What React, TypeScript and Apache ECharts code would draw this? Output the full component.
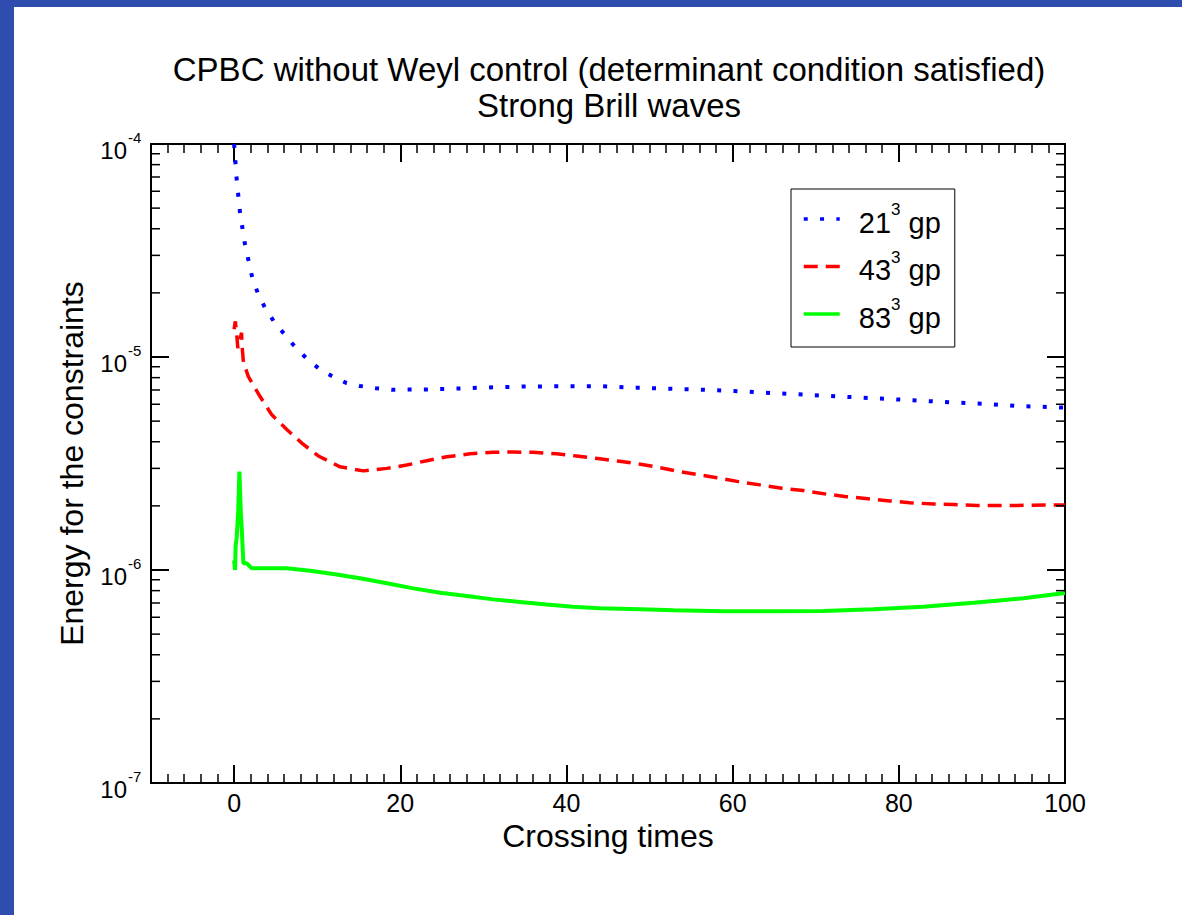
import React, { useEffect, useRef } from "react";
import * as echarts from "echarts";

const FONT = '"Liberation Sans", Arial, Helvetica, sans-serif';

const TITLE_LINES = [
  "CPBC without Weyl control (determinant condition satisfied)",
  "Strong Brill waves",
];
const X_NAME = "Crossing times";
const Y_NAME = "Energy for the constraints";

const SERIES_NAMES = ["21³ gp", "43³ gp", "83³ gp"];

// y tick labels: 10^exponent
const Y_TICK_VALUES = [1e-7, 1e-6, 1e-5, 1e-4];
const Y_TICK_EXPONENTS = ["-7", "-6", "-5", "-4"];

// 21^3 grid points (blue, dotted)
const t21 = [0, 0.32, 0.72, 1.32, 2.2, 2.85, 3.73, 4.78, 5.98, 7.22, 8.63, 10.14, 11.76, 13.44, 15.16, 17.09, 19.0, 23.0, 26.9, 30.7, 34.6, 38.6, 44.4, 48.5, 52.3, 56.3, 60.2, 64.0, 67.9, 71.8, 75.7, 79.5, 83.4, 87.3, 91.2, 95.0, 98.9, 100];
const e21 = [1.0e-4, 6.77e-5, 4.74e-5, 3.36e-5, 2.35e-5, 2.0e-5, 1.7e-5, 1.47e-5, 1.29e-5, 1.13e-5, 9.93e-6, 8.87e-6, 8.14e-6, 7.57e-6, 7.31e-6, 7.13e-6, 7.02e-6, 7.04e-6, 7.11e-6, 7.2e-6, 7.26e-6, 7.28e-6, 7.28e-6, 7.18e-6, 7.1e-6, 7.02e-6, 6.92e-6, 6.8e-6, 6.68e-6, 6.56e-6, 6.44e-6, 6.33e-6, 6.21e-6, 6.1e-6, 6.0e-6, 5.87e-6, 5.81e-6, 5.78e-6];

// 43^3 grid points (red, dashed)
const t43 = [0, 0.15, 0.3, 0.45, 0.7, 0.9, 0.95, 1.12, 1.72, 3.13, 4.54, 6.34, 8.15, 10.14, 12.76, 15.56, 18.38, 20.78, 23.19, 25.6, 28.4, 31.2, 33.6, 36.0, 38.8, 41.2, 44.0, 46.4, 48.9, 51.3, 53.7, 55.7, 58.1, 60.7, 63.3, 65.9, 68.5, 71.3, 73.7, 76.3, 78.9, 81.3, 84.2, 86.6, 89.4, 94.2, 99.4, 100];
const e43 = [1.35e-5, 1.47e-5, 1.3e-5, 1.1e-5, 1.2e-5, 1.3e-5, 1.14e-5, 9.48e-6, 8.08e-6, 6.52e-6, 5.35e-6, 4.57e-6, 3.94e-6, 3.43e-6, 3.05e-6, 2.92e-6, 3.0e-6, 3.11e-6, 3.26e-6, 3.4e-6, 3.51e-6, 3.57e-6, 3.58e-6, 3.57e-6, 3.51e-6, 3.43e-6, 3.33e-6, 3.24e-6, 3.14e-6, 3.02e-6, 2.89e-6, 2.81e-6, 2.71e-6, 2.6e-6, 2.51e-6, 2.42e-6, 2.36e-6, 2.27e-6, 2.21e-6, 2.16e-6, 2.11e-6, 2.07e-6, 2.04e-6, 2.03e-6, 2.01e-6, 2.01e-6, 2.02e-6, 2.02e-6];

// 83^3 grid points (green, solid)
const t83 = [0, 0.12, 0.18, 0.32, 0.5, 0.64, 0.8, 0.93, 1.12, 1.53, 2.13, 3.94, 6.34, 9.15, 11.95, 15.16, 18.38, 21.58, 24.8, 28.0, 31.2, 34.4, 37.6, 40.8, 44.0, 48.9, 52.9, 58.9, 64.9, 70.9, 76.9, 82.9, 89.0, 95.0, 100];
const e83 = [1.11e-6, 1.0e-6, 1.29e-6, 1.43e-6, 1.9e-6, 2.9e-6, 1.9e-6, 1.54e-6, 1.075e-6, 1.075e-6, 1.018e-6, 1.018e-6, 1.018e-6, 9.93e-7, 9.58e-7, 9.14e-7, 8.66e-7, 8.2e-7, 7.82e-7, 7.55e-7, 7.28e-7, 7.08e-7, 6.88e-7, 6.73e-7, 6.61e-7, 6.54e-7, 6.47e-7, 6.4e-7, 6.4e-7, 6.42e-7, 6.54e-7, 6.73e-7, 7.02e-7, 7.36e-7, 7.8e-7];

const X_MIN = -10;
const X_MAX = 100;
const Y_MIN = 1e-7;
const Y_MAX = 1e-4;

// log minor tick positions: mantissas 2..9 in each decade
const MINOR_MANTISSAS = [2, 3, 4, 5, 6, 7, 8, 9];
const DECADES = [-7, -6, -5];
const minorY: number[] = [];
DECADES.forEach((d) => MINOR_MANTISSAS.forEach((m) => minorY.push(m * Math.pow(10, d))));

const zip = (xs: number[], ys: number[]) => xs.map((x, i) => [x, ys[i]]);

export default function App() {
  const ref = useRef<HTMLDivElement>(null);

  useEffect(() => {
    const chart = echarts.init(ref.current!, null, { renderer: "svg" });

    const axisLineStyle = { color: "#000", width: 2 };
    const majorTick = { inside: true, length: 18, lineStyle: { color: "#000", width: 2 } };
    const minorTick = { show: true, splitNumber: 10, length: 9, lineStyle: { color: "#000", width: 1.5 } };

    const xBase = {
      type: "value",
      min: X_MIN,
      max: X_MAX,
      axisLine: { show: true, onZero: false, lineStyle: axisLineStyle },
      axisTick: majorTick,
      minorTick,
      splitLine: { show: false },
      minorSplitLine: { show: false },
    };
    const yBase = {
      type: "log",
      logBase: 10,
      min: Y_MIN,
      max: Y_MAX,
      axisLine: { show: true, onZero: false, lineStyle: axisLineStyle },
      axisTick: majorTick,
      axisLabel: { show: false },
      splitLine: { show: false },
    };

    const legendFormatter = (name: string) => {
      const base = name.split("³")[0];
      return `{a|${base}}{s|3}{b| gp}`;
    };

    const borderRects = [
      { type: "rect", shape: { x: 0, y: 0, width: 1182, height: 7 }, style: { fill: "#2E4DAE" }, silent: true },
      { type: "rect", shape: { x: 0, y: 0, width: 14, height: 915 }, style: { fill: "#2E4DAE" }, silent: true },
    ];

    chart.setOption({
      animation: false,
      backgroundColor: "#fff",
      textStyle: { fontFamily: FONT },
      title: {
        text: TITLE_LINES.join("\n"),
        left: 609,
        top: 51,
        textAlign: "center",
        padding: 0,
        textStyle: { fontSize: 33, fontWeight: "normal", color: "#000", lineHeight: 36, fontFamily: FONT },
      },
      graphic: borderRects,
      grid: { left: 151, top: 144, width: 914, height: 639, containLabel: false },
      legend: {
        data: SERIES_NAMES,
        orient: "vertical",
        left: 791,
        top: 189,
        padding: [12, 14, 15, 11],
        itemGap: 11.5,
        itemWidth: 36,
        itemHeight: 14,
        borderColor: "#000",
        borderWidth: 1,
        backgroundColor: "#fff",
        selectedMode: false,
        itemStyle: { opacity: 0, color: "rgba(0,0,0,0)", borderWidth: 0 },
        lineStyle: { width: 3.5 },
        formatter: legendFormatter,
        textStyle: {
          fontFamily: FONT,
          fontSize: 29,
          color: "#000",
          rich: {
            a: { fontFamily: FONT, fontSize: 29, lineHeight: 29, color: "#000", padding: [7, 0, 0, 14] },
            s: { fontFamily: FONT, fontSize: 17, lineHeight: 17, color: "#000", padding: [0, 0, 19, 0] },
            b: { fontFamily: FONT, fontSize: 29, lineHeight: 29, color: "#000", padding: [7, 0, 0, 0] },
          },
        },
      },
      xAxis: [
        {
          ...xBase,
          position: "bottom",
          axisLabel: {
            show: true,
            showMinLabel: false,
            margin: 7,
            fontSize: 25,
            color: "#000",
            fontFamily: FONT,
          },
          name: X_NAME,
          nameLocation: "middle",
          nameGap: 34,
          nameTextStyle: { fontSize: 32, color: "#000", fontFamily: FONT },
        },
        {
          ...xBase,
          position: "top",
          axisLabel: { show: false },
        },
      ],
      yAxis: [
        {
          ...yBase,
          position: "left",
          name: Y_NAME,
          nameLocation: "middle",
          nameGap: 63,
          nameTextStyle: { fontSize: 32, color: "#000", fontFamily: FONT },
        },
        {
          ...yBase,
          position: "right",
        },
      ],
      series: [
        {
          name: SERIES_NAMES[0],
          type: "line",
          data: zip(t21, e21),
          symbol: "none",
          showSymbol: false,
          xAxisIndex: 0,
          yAxisIndex: 0,
          lineStyle: { color: "#0000ff", width: 4, type: [4, 12.3] },
          itemStyle: { color: "#0000ff" },
          z: 3,
        },
        {
          name: SERIES_NAMES[1],
          type: "line",
          data: zip(t43, e43),
          symbol: "none",
          showSymbol: false,
          xAxisIndex: 0,
          yAxisIndex: 0,
          lineStyle: { color: "#ff0000", width: 3.5, type: [14, 8] },
          itemStyle: { color: "#ff0000" },
          z: 3,
        },
        {
          name: SERIES_NAMES[2],
          type: "line",
          data: zip(t83, e83),
          symbol: "none",
          showSymbol: false,
          xAxisIndex: 0,
          yAxisIndex: 0,
          lineStyle: { color: "#00ff00", width: 4, type: "solid" },
          itemStyle: { color: "#00ff00" },
          z: 3,
        },
        {
          type: "custom",
          xAxisIndex: 0,
          yAxisIndex: 0,
          silent: true,
          encode: { x: 0, y: 1 },
          data: minorY.map((v) => [0, v]),
          renderItem: (params: any, api: any) => {
            const cs = params.coordSys;
            const y = api.coord([0, api.value(1)])[1];
            const st = { stroke: "#000", lineWidth: 1.5 };
            return {
              type: "group",
              children: [
                { type: "line", shape: { x1: cs.x, y1: y, x2: cs.x + 9, y2: y }, style: st },
                { type: "line", shape: { x1: cs.x + cs.width - 9, y1: y, x2: cs.x + cs.width, y2: y }, style: st },
              ],
            };
          },
          z: 4,
        },
      ],
    });

    // y tick labels (10 with superscript exponent), placed through the log axis scale
    const yLabels: any[] = [];
    Y_TICK_VALUES.forEach((v, i) => {
      const py = chart.convertToPixel({ yAxisIndex: 0 }, v) as number;
      yLabels.push({
        type: "text",
        x: 127,
        y: py + 6,
        silent: true,
        style: {
          text: "10",
          fontSize: 24,
          fontFamily: FONT,
          fill: "#000",
          align: "right",
          verticalAlign: "middle",
          textAlign: "right",
          textVerticalAlign: "middle",
        },
      });
      yLabels.push({
        type: "text",
        x: 128,
        y: py - 7,
        silent: true,
        style: {
          text: Y_TICK_EXPONENTS[i],
          fontSize: 15,
          fontFamily: FONT,
          fill: "#000",
          align: "left",
          verticalAlign: "middle",
          textAlign: "left",
          textVerticalAlign: "middle",
        },
      });
    });
    chart.setOption({ graphic: [...borderRects, ...yLabels] });

    return () => chart.dispose();
  }, []);

  return (
    <div
      ref={ref}
      style={{ position: "fixed", left: 0, top: 0, width: 1182, height: 915, background: "#fff" }}
    />
  );
}
